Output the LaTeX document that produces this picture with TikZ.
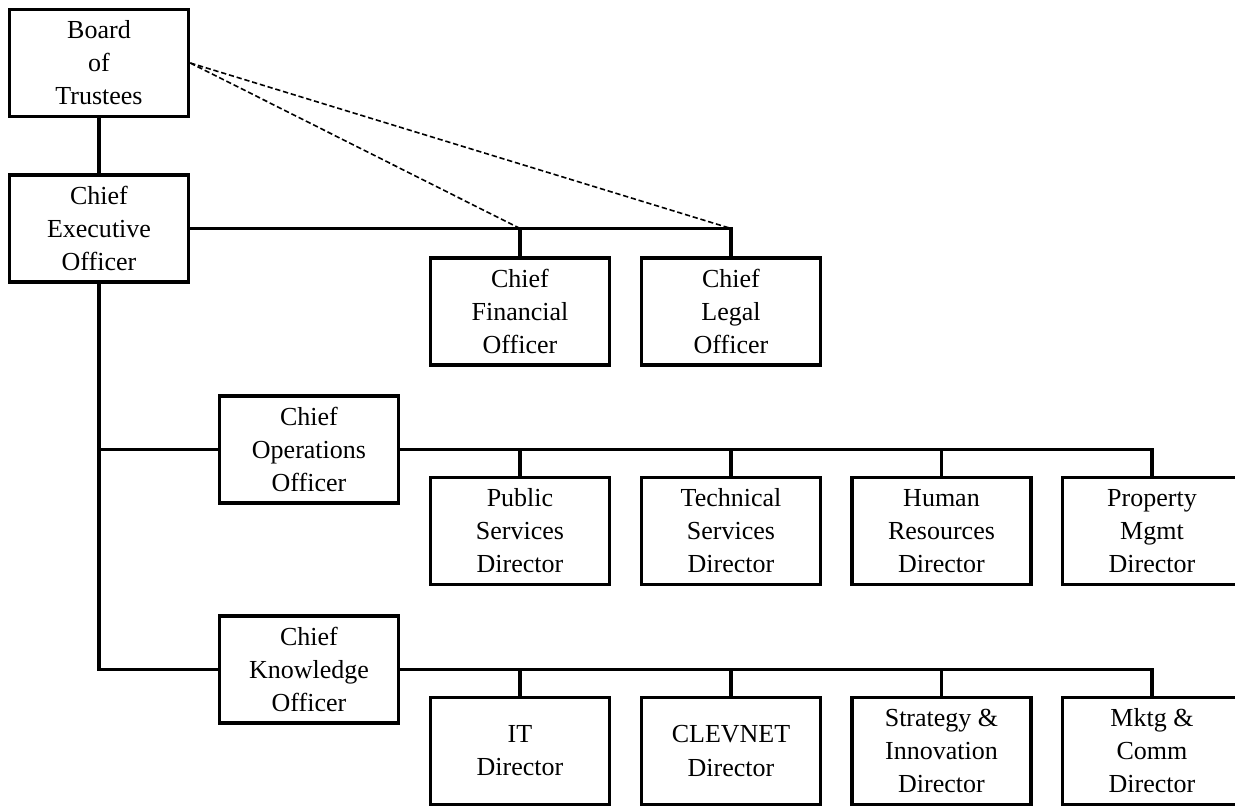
\documentclass[tikz,border=0pt]{standalone}
\usepackage{fontspec}
\setmainfont{Liberation Serif}
\begin{document}
\begin{tikzpicture}[]
        \tikzstyle{post}=[rectangle, draw=black, line width=2pt, minimum width=3.58cm, minimum height=2.14cm, inner sep=0pt, align=center, font=\fontsize{14.8}{18.8}\selectfont]
        \tikzstyle{link}=[draw=black, line width=2pt]
        \tikzstyle{advise}=[draw=black, line width=0.9pt, dash pattern=on 3pt off 1.6pt]
        \useasboundingbox (0,0) rectangle (24.7,-16.12);
        % top level
        \node[post] (BOT) at (1.98,-1.26) {Board\\of\\Trustees};
        \node[post] (CEO) at (1.98,-4.57) {Chief\\Executive\\Officer};
        \node[post] (CFO) at (10.4,-6.23) {Chief\\Financial\\Officer};
        \node[post] (CLO) at (14.62,-6.23) {Chief\\Legal\\Officer};
        % operations
        \node[post] (COO) at (6.18,-8.99) {Chief\\Operations\\Officer};
        \node[post] (PSD) at (10.4,-10.62) {Public\\Services\\Director};
        \node[post] (TSD) at (14.62,-10.62) {Technical\\Services\\Director};
        \node[post] (HRD) at (18.83,-10.62) {Human\\Resources\\Director};
        \node[post] (PMD) at (23.04,-10.62) {Property\\Mgmt\\Director};
        % knowledge
        \node[post] (CKO) at (6.18,-13.39) {Chief\\Knowledge\\Officer};
        \node[post] (ITD) at (10.4,-15.02) {IT\\Director};
        \node[post] (CND) at (14.62,-15.02) {CLEVNET\\Director};
        \node[post] (SID) at (18.83,-15.02) {Strategy \&\\Innovation\\Director};
        \node[post] (MCD) at (23.04,-15.02) {Mktg \&\\Comm\\Director};
        \path[link] (BOT) -- (CEO);
        \path[link] (CEO.east) -- (CEO.east -| CLO.north) -- (CLO.north);
        \path[link] (CEO.east -| CFO.north) -- (CFO.north);
        \path[link] (CEO.south) |- (CKO.west);
        \path[link] (CEO.south |- COO.west) -- (COO.west);
        \path[link] (COO.east) -- (COO.east -| PMD.north) -- (PMD.north);
        \foreach \d in {PSD,TSD,HRD}
            \path[link] (COO.east -| \d.north) -- (\d.north);
        \path[link] (CKO.east) -- (CKO.east -| MCD.north) -- (MCD.north);
        \foreach \d in {ITD,CND,SID}
            \path[link] (CKO.east -| \d.north) -- (\d.north);
        \path[advise] (BOT.east) -- (CEO.east -| CFO.north);
        \path[advise] (BOT.east) -- (CEO.east -| CLO.north);
    \end{tikzpicture}
\end{document}
